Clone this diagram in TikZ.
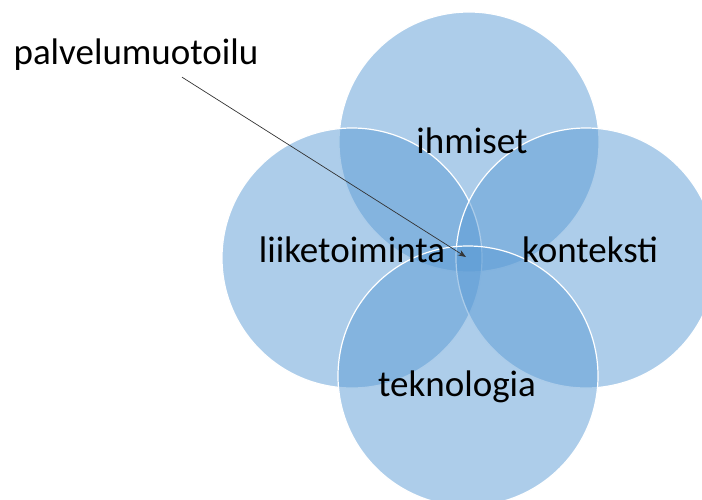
\documentclass[tikz,border=0pt]{standalone}
\usepackage{fontspec}
\setmainfont{Carlito}
\usetikzlibrary{arrows.meta}
\definecolor{vennblue}{RGB}{91,155,213}
\begin{document}
\begin{tikzpicture}[
    x=1pt, y=-1pt,
    bubble/.style={fill=vennblue, fill opacity=0.5, draw=white, line width=1.2pt},
    lbl/.style={font=\fontsize{37}{44}\selectfont, text=black, inner sep=0pt, anchor=base},
    pointer/.style={-{Stealth[length=8pt, width=6pt]}, draw=black!80, line width=0.7pt}
]
    \useasboundingbox (0,0) rectangle (702,500);

    % Ympyrät: ylä, vasen, oikea, ala
    \path[bubble] (469,142) circle[radius=130pt];
    \path[bubble] (352,258) circle[radius=130pt];
    \path[bubble] (586,258) circle[radius=130pt];
    \path[bubble] (468,376) circle[radius=130pt];

    % Tekstit
    \node[lbl] (ihm) at (472,154) {ihmiset};
    \node[lbl] (lii) at (352,262) {liiketoiminta};
    \node[lbl] (kon) at (590,262) {konteksti};
    \node[lbl] (tek) at (457,396) {teknologia};
    \node[lbl] (pal) at (136,65) {palvelumuotoilu};

    % Nuoli keskelle
    \coordinate (keski) at (466,257);
    \draw[pointer] ([xshift=46pt, yshift=-6pt]pal.south) -- (keski);

\end{tikzpicture}
\end{document}
